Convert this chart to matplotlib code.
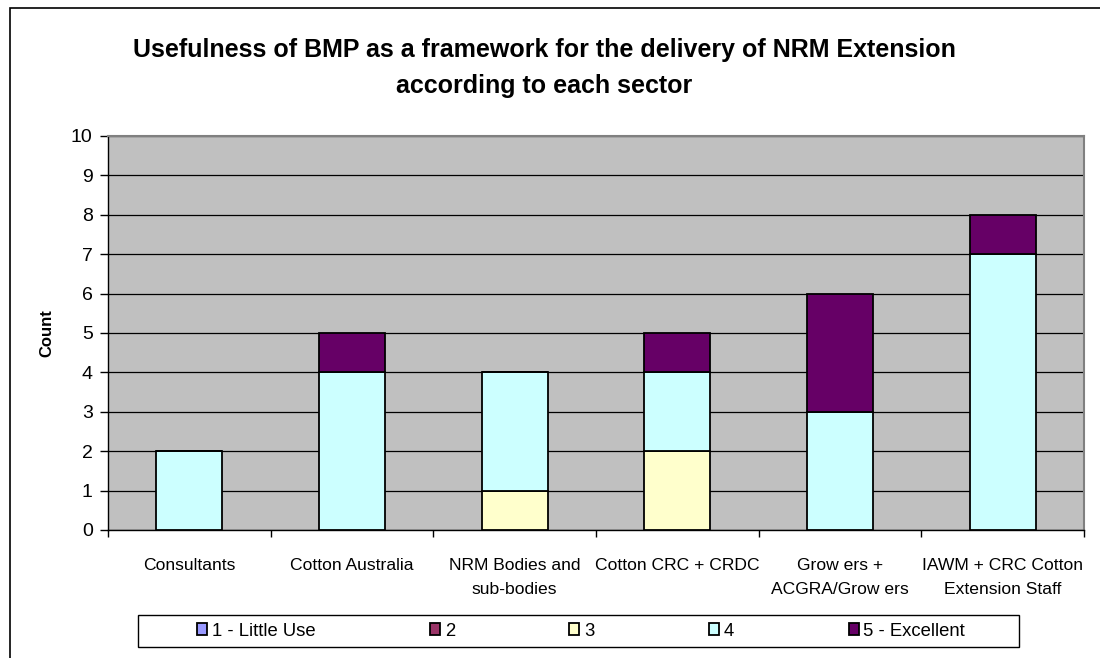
import numpy as np
import matplotlib.pyplot as plt
from matplotlib.patches import Rectangle
from matplotlib.ticker import FixedLocator

plt.rcParams['font.family'] = ['Liberation Sans', 'DejaVu Sans']

# data
sectors = ['Consultants', 'Cotton Australia', 'NRM Bodies and\nsub-bodies',
           'Cotton CRC + CRDC', 'Grow ers +\nACGRA/Grow ers',
           'IAWM + CRC Cotton\nExtension Staff']
series_names = ['1 - Little Use', '2', '3', '4', '5 - Excellent']
little_use = [0, 0, 0, 0, 0, 0]
score_2 = [0, 0, 0, 0, 0, 0]
score_3 = [0, 0, 1, 2, 0, 0]
score_4 = [2, 4, 3, 2, 3, 7]
excellent = [0, 1, 0, 1, 3, 1]
colors = ['#9999FF', '#993366', '#FFFFCC', '#CCFFFF', '#660066']
y_ticks = list(range(0, 11))

fig = plt.figure(figsize=(11, 6.58), dpi=100)
ax = fig.add_axes([108 / 1100, 1 - 530 / 658, 976 / 1100, 394 / 658])
ax.set_facecolor('#C0C0C0')

x = np.arange(len(sectors))
bottom = np.zeros(len(sectors))
handles = []
for name, vals, c in zip(series_names, [little_use, score_2, score_3, score_4, excellent], colors):
    vals = np.array(vals, dtype=float)
    bars = ax.bar(x, vals, 0.405, bottom=bottom, color=c, edgecolor='black',
                  linewidth=1.3, label=name, zorder=3)
    handles.append(bars)
    bottom += vals

ax.set_xlim(-0.5, len(sectors) - 0.5)
ax.set_ylim(0, 10)
ax.set_yticks(y_ticks)
ax.yaxis.grid(True, color='black', linewidth=0.9)
ax.set_axisbelow(True)

ax.set_xticks(x)
ax.set_xticklabels(sectors, fontsize=12.6, linespacing=1.7)
ax.xaxis.set_minor_locator(FixedLocator(np.arange(-0.5, len(sectors), 1)))
ax.tick_params(axis='x', which='major', length=0, pad=20.5)
ax.tick_params(axis='x', which='minor', length=5, direction='out', width=1)
ax.tick_params(axis='y', length=6, width=1, direction='out', labelsize=14, pad=5)

for s in ['top', 'right']:
    ax.spines[s].set_color('#808080')
    ax.spines[s].set_linewidth(1.5)
for s in ['left', 'bottom']:
    ax.spines[s].set_color('black')
    ax.spines[s].set_linewidth(1)

ax.set_ylabel('Count', fontsize=12, fontweight='bold', labelpad=12)

fig.text(544 / 1100, 1 - 68 / 658,
         'Usefulness of BMP as a framework for the delivery of NRM Extension\naccording to each sector',
         ha='center', va='center', fontsize=18, fontweight='bold', linespacing=1.6)

# legend box
fig.add_artist(Rectangle((138 / 1100, 1 - 647 / 658), 881 / 1100, 32 / 658,
                         transform=fig.transFigure, facecolor='white',
                         edgecolor='black', linewidth=1))
fig.legend(handles=handles, loc='center', bbox_to_anchor=(581 / 1100, 1 - 631 / 658),
           ncol=5, frameon=False, fontsize=13.3, handlelength=0.55, handleheight=0.55,
           handletextpad=0.25, columnspacing=6.2)

# chart area border
fig.add_artist(Rectangle((10 / 1100, -0.1), 1.2, 1 - 8 / 658 + 0.1,
                         transform=fig.transFigure, facecolor='none',
                         edgecolor='black', linewidth=1.2))

fig.savefig('out.png', dpi=100)
